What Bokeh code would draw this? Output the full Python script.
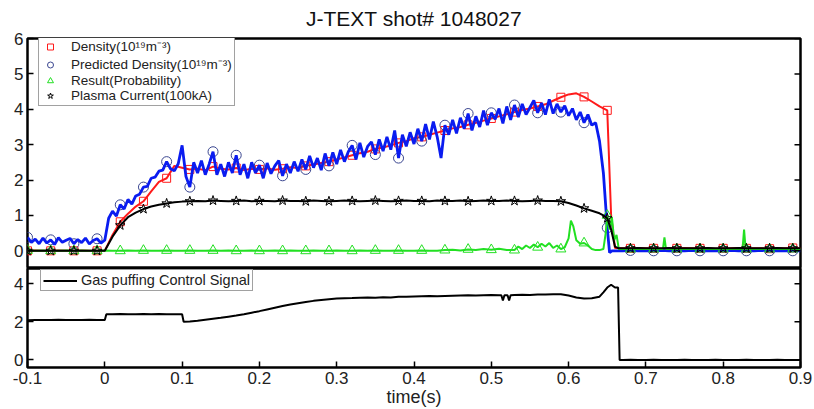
import numpy as np
from bokeh.plotting import figure
from bokeh.models import (Range1d, FixedTicker, CustomJSTickFormatter,
                          Legend, LegendItem)
from bokeh.layouts import column
from bokeh.embed import file_html
from bokeh.resources import INLINE

# ---------------- texts / ticks ----------------
TITLE = "J-TEXT shot# 1048027"
X_LABEL = "time(s)"
X_TICKS = [-0.1, 0.0, 0.1, 0.2, 0.3, 0.4, 0.5, 0.6, 0.7, 0.8, 0.9]
X_TICK_LABELS = ["-0.1", "0", "0.1", "0.2", "0.3", "0.4", "0.5", "0.6", "0.7", "0.8", "0.9"]
TOP_Y_TICKS = [0, 1, 2, 3, 4, 5, 6]
BOT_Y_TICKS = [0, 2, 4]
LABEL_DENS = "Density(10¹⁹m⁻³)"
LABEL_PRED = "Predicted Density(10¹⁹m⁻³)"
LABEL_PROB = "Result(Probability)"
LABEL_IP = "Plasma Current(100kA)"
LABEL_GAS = "Gas puffing Control Signal"


def grid(start, stop, step):
    n = int(round((stop - start) / step)) + 1
    return np.round(start + step * np.arange(n), 4)


# ---------------- Density (red) ----------------
dens_t = np.concatenate([grid(-0.1, 0.65, 0.01), [0.655, 0.66], grid(0.67, 0.9, 0.01)])
dens_v = [0.0, 0.01, 0.0, 0.0, 0.01, 0.0, 0.0, 0.01, 0.0, 0.0, 0.0,
          0.45, 0.82, 1.05, 1.25, 1.40, 1.68, 1.95, 2.05, 2.40, 2.35,
          2.30, 2.32, 2.28, 2.38, 2.32, 2.30, 2.34, 2.28, 2.32, 2.30,
          2.33, 2.29, 2.32, 2.36, 2.34, 2.40, 2.44, 2.48, 2.52, 2.58,
          2.64, 2.70, 2.76, 2.80, 2.88, 2.92, 2.98, 3.05, 3.10, 3.18,
          3.22, 3.28, 3.34, 3.40, 3.46, 3.50, 3.56, 3.62, 3.68, 3.74,
          3.80, 3.86, 3.92, 3.98, 4.02, 4.08, 4.14, 4.24, 4.34, 4.42,
          4.45, 4.35, 4.22, 4.08, 3.97,
          1.00, 0.08,
          0.07, 0.07, 0.08, 0.07, 0.07, 0.06, 0.07, 0.07, 0.08, 0.07, 0.07, 0.07,
          0.06, 0.07, 0.07, 0.08, 0.07, 0.07, 0.07, 0.06, 0.07, 0.07, 0.08, 0.07]

# ---------------- Predicted density (blue) ----------------
pred_t = np.concatenate([grid(-0.1, 0.65, 0.005), [0.653, 0.656, 0.66], grid(0.67, 0.9, 0.01)])
pred_v = [0.38, 0.24, 0.33, 0.20, 0.36, 0.22, 0.31, 0.18, 0.37, 0.24,
          0.30, 0.35, 0.20, 0.32, 0.23, 0.36, 0.19, 0.29, 0.34, 0.22,
          0.30, 0.92, 1.12, 0.98, 1.30, 1.18, 1.45, 1.32, 1.55, 1.60,
          1.80, 1.82, 2.05, 2.08, 2.25, 2.28, 2.52, 2.32, 2.26, 2.46,
          2.98, 2.10, 1.80, 2.50, 2.20, 2.55, 2.15, 2.45, 2.80, 2.15,
          2.45, 2.10, 2.50, 2.20, 2.70, 2.15, 2.45, 2.05, 2.50, 2.20,
          2.42, 2.05, 2.48, 2.18, 2.40, 2.55, 2.12, 2.45, 2.20, 2.52,
          2.25, 2.58, 2.30, 2.68, 2.35, 2.62, 2.28, 2.75, 2.40, 2.78,
          2.45, 2.85, 2.52, 2.80, 2.98, 2.58, 3.05, 2.65, 2.95, 3.08,
          2.72, 3.15, 2.82, 3.22, 2.86, 3.40, 2.62, 3.28, 2.95, 3.35,
          3.02, 3.45, 3.10, 3.58, 3.15, 3.65, 3.22, 2.62, 3.55, 3.28,
          3.70, 3.32, 3.76, 3.45, 3.88, 3.40, 3.80, 3.50, 3.96, 3.55,
          3.90, 3.72, 4.02, 3.60, 4.08, 3.70, 4.12, 3.78, 4.15, 3.85,
          4.05, 4.25, 3.90, 4.18, 3.85, 4.28, 3.88, 4.15, 3.92, 4.10,
          3.82, 4.02, 3.70, 3.92, 3.62, 3.85, 3.55, 3.62, 3.10, 2.20,
          0.65,
          -0.05, 0.0, 0.0,
          0.0, 0.01, 0.0, 0.0, 0.0, 0.01, 0.0, 0.0, 0.0, 0.01, 0.0, 0.0,
          0.0, 0.0, 0.01, 0.0, 0.0, 0.0, 0.01, 0.0, 0.0, 0.0, 0.0, 0.0]

# ---------------- Result probability (green) ----------------
prob_t = np.concatenate([grid(-0.1, 0.52, 0.01),
                         [0.53, 0.535, 0.54, 0.545, 0.55, 0.555, 0.56, 0.565, 0.57, 0.575,
                          0.58, 0.585, 0.59, 0.595, 0.60, 0.603, 0.606, 0.61, 0.615, 0.62,
                          0.625, 0.63, 0.635, 0.64, 0.645, 0.648, 0.65, 0.653, 0.656, 0.659,
                          0.662, 0.665, 0.67, 0.68, 0.69, 0.70, 0.71, 0.72, 0.722, 0.724,
                          0.726, 0.73, 0.74, 0.75, 0.76, 0.77, 0.78, 0.79, 0.80, 0.81,
                          0.82, 0.825, 0.827, 0.829, 0.83, 0.84, 0.85, 0.86, 0.87, 0.88,
                          0.89, 0.90]])
prob_v = [
    0.01, 0.0, 0.01, 0.0, 0.0, 0.01, 0.0, 0.01, 0.0, 0.0,
    0.01, 0.0, 0.0, 0.01, 0.0, 0.01, 0.0, 0.0, 0.01, 0.0,
    0.0, 0.01, 0.0, 0.0, 0.01, 0.0, 0.01, 0.0, 0.0, 0.01,
    0.0, 0.0, 0.01, 0.0, 0.01, 0.0, 0.0, 0.01, 0.0, 0.0,
    0.01, 0.0, 0.0, 0.01, 0.0, 0.01, 0.0, 0.0, 0.01, 0.0,
    0.0, 0.01, 0.0, 0.0, 0.02, 0.03, 0.01, 0.04, 0.02, 0.05,
    0.03, 0.06, 0.02,
    0.02, 0.12, 0.05, 0.15, 0.08, 0.18, 0.10, 0.20, 0.12, 0.22,
    0.08, 0.15, 0.05, 0.10, 0.35, 0.85, 0.70, 0.30, 0.20, 0.22,
    0.15, 0.05, 0.02, 0.02, 0.05, 0.50, 1.00, 0.60, 0.95, 0.30,
    0.45, 0.05, 0.05, 0.05, 0.05, 0.05, 0.05, 0.05, 0.05, 0.38,
    0.05, 0.05, 0.05, 0.05, 0.05, 0.05, 0.05, 0.05, 0.05, 0.05,
    0.05, 0.05, 0.60, 0.05, 0.05, 0.05, 0.05, 0.05, 0.05, 0.05,
    0.05, 0.05]

# ---------------- Plasma current (black) ----------------
ip_t = np.concatenate([grid(-0.1, 0.64, 0.01), [0.645, 0.65, 0.655, 0.66, 0.665],
                       grid(0.67, 0.9, 0.01)])
ip_v = [0.0, 0.0, 0.0, 0.0, 0.0, 0.0, 0.0, 0.0, 0.0, 0.0, 0.0,
        0.40, 0.72, 0.95, 1.08, 1.18, 1.25, 1.30, 1.34, 1.37, 1.39,
        1.40, 1.41, 1.40, 1.42, 1.41, 1.40, 1.41, 1.42, 1.40, 1.41,
        1.41, 1.40, 1.42, 1.41, 1.41, 1.40, 1.42, 1.41, 1.40, 1.41,
        1.42, 1.41, 1.40, 1.41, 1.42, 1.41, 1.40, 1.41, 1.42, 1.41,
        1.41, 1.40, 1.42, 1.41, 1.41, 1.42, 1.40, 1.41, 1.42, 1.41,
        1.41, 1.42, 1.41, 1.40, 1.41, 1.42, 1.41, 1.41,
        1.40, 1.35, 1.28, 1.20, 1.13, 1.06,
        1.00, 0.92, 0.60, 0.12, 0.07,
        0.07, 0.07, 0.08, 0.07, 0.07, 0.07, 0.08, 0.07, 0.07, 0.07, 0.07, 0.08,
        0.07, 0.07, 0.07, 0.08, 0.07, 0.07, 0.07, 0.07, 0.08, 0.07, 0.07, 0.07]

# ---------------- Gas puffing control signal (bottom) ----------------
gas_t = np.concatenate([grid(-0.1, 0.0, 0.01), [0.002], grid(0.01, 0.1, 0.01), [0.102],
                        grid(0.11, 0.51, 0.01), [0.513, 0.515, 0.517, 0.521, 0.523, 0.525],
                        grid(0.53, 0.64, 0.01), [0.645, 0.65, 0.655, 0.66, 0.664, 0.666],
                        grid(0.67, 0.9, 0.01)])
gas_v = [2.08, 2.10, 2.09, 2.10, 2.11, 2.10, 2.09, 2.10, 2.11, 2.10, 2.10,
         2.40,
         2.40, 2.41, 2.40, 2.40, 2.41, 2.40, 2.41, 2.40, 2.40, 2.40,
         2.00,
         2.02, 2.06, 2.11, 2.16, 2.21, 2.27, 2.33, 2.40, 2.48, 2.56,
         2.65, 2.74, 2.83, 2.91, 2.98, 3.04, 3.10, 3.15, 3.19, 3.22,
         3.24, 3.25, 3.27, 3.28, 3.27, 3.29, 3.28, 3.31, 3.32, 3.33,
         3.34, 3.35, 3.34, 3.36, 3.37, 3.38, 3.39, 3.38, 3.40, 3.41,
         3.40,
         3.40, 3.12, 3.40, 3.40, 3.12, 3.40,
         3.41, 3.42, 3.41, 3.43, 3.44, 3.45, 3.45, 3.38, 3.28, 3.22, 3.24, 3.32,
         3.55, 3.80, 3.95, 3.80, 3.80, 0.00,
         0.00, 0.01, 0.00, 0.00, 0.01, 0.00, 0.00, 0.00, 0.01, 0.00, 0.00, 0.00,
         0.01, 0.00, 0.00, 0.00, 0.01, 0.00, 0.00, 0.00, 0.01, 0.00, 0.00, 0.00]


def on_marker_grid(t):
    k = (np.asarray(t) + 0.1) / 0.03
    return np.abs(k - np.round(k)) < 1e-6


FONT = "Liberation Sans"
RED, BLUE, GREEN, BLACK = "#ff1a1a", "#0a1cf0", "#22e022", "#000000"
TICK_FONT_SIZE = "17px"


def style_axis(ax, ticks, formatter=None):
    ax.ticker = FixedTicker(ticks=ticks)
    ax.major_tick_in = 6
    ax.major_tick_out = 0
    ax.minor_tick_line_color = None
    ax.axis_line_color = None
    ax.major_tick_line_color = "black"
    ax.major_tick_line_width = 1.5
    ax.major_label_text_font = FONT
    ax.major_label_text_font_size = TICK_FONT_SIZE
    ax.major_label_text_color = "#222222"
    ax.major_label_standoff = 4
    if formatter is not None:
        ax.formatter = formatter


def right_ticks(fig, ticks):
    # inward tick marks on the right frame edge (MATLAB box style), no labels
    fig.scatter([fig.x_range.end] * len(ticks), ticks, marker="dash", size=12,
                line_color="black", line_width=1.5)


xr = Range1d(-0.1, 0.9)

# ---------------- top panel ----------------
top = figure(width=814, height=268, x_range=xr, y_range=Range1d(-0.5, 6),
             output_backend="svg", toolbar_location=None,
             x_axis_location=None, y_axis_location="left",
             min_border_left=27, min_border_right=14, min_border_top=33, min_border_bottom=0,
             title=TITLE)
top.title.align = "center"
top.title.vertical_align = "top"
top.title.text_font = FONT
top.title.text_font_size = "21px"
top.title.text_font_style = "normal"
top.title.text_color = "#111111"
top.title.text_line_height = 0.8
top.title.standoff = 13
top.grid.visible = False
top.outline_line_color = "black"
top.outline_line_width = 2.5
style_axis(top.yaxis[0], TOP_Y_TICKS)

dens_t = np.asarray(dens_t); dens_v = np.asarray(dens_v)
pred_t = np.asarray(pred_t); pred_v = np.asarray(pred_v)
prob_t = np.asarray(prob_t); prob_v = np.asarray(prob_v)
ip_t = np.asarray(ip_t); ip_v = np.asarray(ip_v)

top.line(dens_t, dens_v, color=RED, line_width=2)
m = on_marker_grid(dens_t)
dens_mk = top.scatter(dens_t[m], dens_v[m], marker="square", size=8, fill_color=None,
                      line_color=RED, line_width=1)

m = on_marker_grid(pred_t)
pred_mk = top.scatter(pred_t[m], pred_v[m], marker="circle", size=10, fill_color=None,
                      line_color="#3a4690", line_width=1)
top.line(pred_t, pred_v, color=BLUE, line_width=2.8)

top.line(prob_t, prob_v, color=GREEN, line_width=2)
m = on_marker_grid(prob_t)
prob_mk = top.scatter(prob_t[m], prob_v[m], marker="triangle", size=10, fill_color=None,
                      line_color=GREEN, line_width=1)

top.line(ip_t, ip_v, color=BLACK, line_width=2)
m = on_marker_grid(ip_t)
ip_mk = top.scatter(ip_t[m], ip_v[m], marker="star", size=10, fill_color=None,
                    line_color=BLACK, line_width=1)
right_ticks(top, TOP_Y_TICKS)

leg = Legend(items=[LegendItem(label=LABEL_DENS, renderers=[dens_mk]),
                    LegendItem(label=LABEL_PRED, renderers=[pred_mk]),
                    LegendItem(label=LABEL_PROB, renderers=[prob_mk]),
                    LegendItem(label=LABEL_IP, renderers=[ip_mk])],
             location=(11, 162))
leg.label_text_font = FONT
leg.label_text_font_size = "13.5px"
leg.label_text_color = "#222222"
leg.label_height = 15
leg.glyph_height = 15
leg.glyph_width = 18
leg.label_standoff = 12
leg.spacing = 0
leg.padding = 2
leg.margin = 0
leg.border_line_color = "#444444"
leg.border_line_width = 1
leg.background_fill_color = "white"
leg.background_fill_alpha = 1
top.add_layout(leg)

# ---------------- bottom panel ----------------
bot = figure(width=814, height=141, x_range=xr, y_range=Range1d(-0.4, 4.8),
             output_backend="svg", toolbar_location=None,
             min_border_left=27, min_border_right=14, min_border_top=0, min_border_bottom=40)
bot.grid.visible = False
bot.outline_line_color = "black"
bot.outline_line_width = 2.5
xfmt = CustomJSTickFormatter(args=dict(xt=X_TICKS, xl=X_TICK_LABELS), code="""
    let best = 0, bd = 1e9;
    for (let i = 0; i < xt.length; i++) {
        const d = Math.abs(xt[i] - tick);
        if (d < bd) { bd = d; best = i; }
    }
    return xl[best];
""")
style_axis(bot.xaxis[0], X_TICKS, formatter=xfmt)
bot.xaxis[0].axis_label = X_LABEL
bot.xaxis[0].axis_label_text_font = FONT
bot.xaxis[0].axis_label_text_font_size = "18px"
bot.xaxis[0].axis_label_text_font_style = "normal"
bot.xaxis[0].axis_label_text_color = "#222222"
bot.xaxis[0].axis_label_standoff = 0
style_axis(bot.yaxis[0], BOT_Y_TICKS)

gas_r = bot.line(np.asarray(gas_t), np.asarray(gas_v), color=BLACK, line_width=2)
right_ticks(bot, BOT_Y_TICKS)
leg2 = Legend(items=[LegendItem(label=LABEL_GAS, renderers=[gas_r])], location=(13, 76))
leg2.label_text_font = FONT
leg2.label_text_font_size = "14.5px"
leg2.label_text_color = "#222222"
leg2.label_height = 13
leg2.glyph_height = 13
leg2.glyph_width = 34
leg2.label_standoff = 4
leg2.padding = 2
leg2.margin = 0
leg2.border_line_color = "#444444"
leg2.border_line_width = 1
bot.add_layout(leg2)

layout = column(top, bot, spacing=0)
open("out.html", "w").write(file_html(layout, INLINE))
